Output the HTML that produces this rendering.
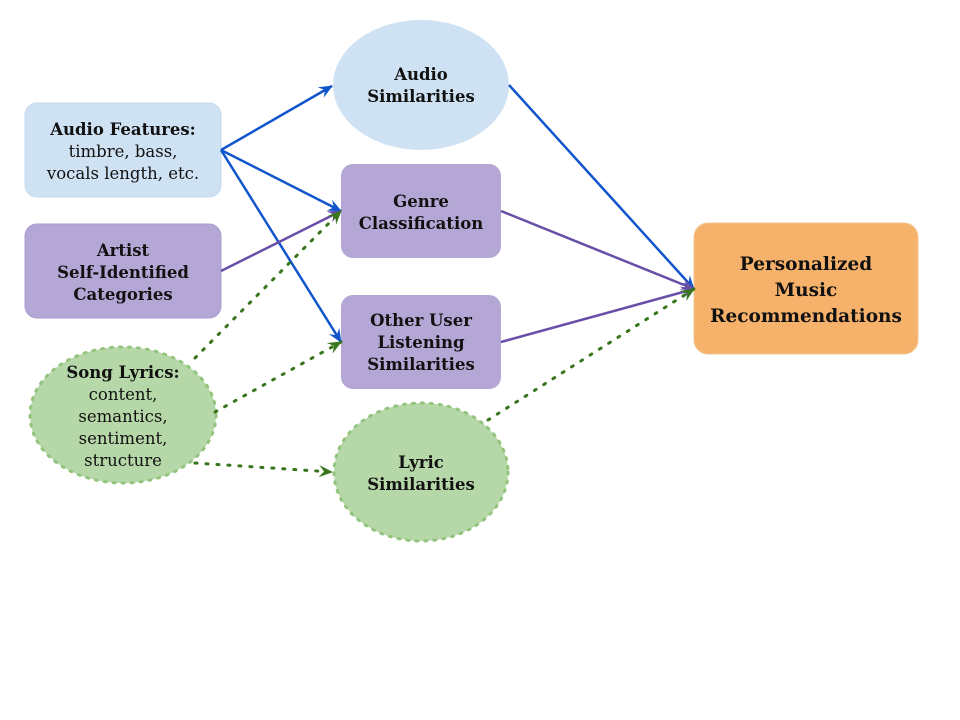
<!DOCTYPE html>
<html><head><meta charset="utf-8"><style>html,body{margin:0;padding:0;background:#fff}svg{display:block}</style></head>
<body>
<svg width="960" height="720" viewBox="0 0 960 720" xmlns="http://www.w3.org/2000/svg" font-family="'DejaVu Serif','Liberation Serif',serif">
<defs>
<marker id="ab" viewBox="0 0 14 12" refX="13" refY="6" markerWidth="14" markerHeight="12" markerUnits="userSpaceOnUse" orient="auto"><path d="M0,0 L14,6 L0,12 L5,6 Z" fill="#1155cc"/></marker>
<marker id="ap" viewBox="0 0 14 12" refX="13" refY="6" markerWidth="14" markerHeight="12" markerUnits="userSpaceOnUse" orient="auto"><path d="M0,0 L14,6 L0,12 L5,6 Z" fill="#674ea7"/></marker>
<marker id="ag" viewBox="0 0 14 12" refX="13" refY="6" markerWidth="14" markerHeight="12" markerUnits="userSpaceOnUse" orient="auto"><path d="M0,0 L14,6 L0,12 L5,6 Z" fill="#38761d"/></marker>
</defs>
<rect x="25" y="103" width="196" height="94" rx="12" fill="#cfe2f3" stroke="#c4d9ee"/>
<rect x="25" y="224" width="196" height="94" rx="12" fill="#b4a7d6" stroke="#aa9dd0"/>
<ellipse cx="123" cy="415" rx="93" ry="68" fill="#b6d7a8" stroke="#93c47d" stroke-width="3" stroke-dasharray="2,7" stroke-linecap="round"/>
<ellipse cx="421" cy="85" rx="88" ry="65" fill="#cfe2f3"/>
<rect x="341" y="164" width="160" height="94" rx="12" fill="#b4a7d6"/>
<rect x="341" y="295" width="160" height="94" rx="12" fill="#b4a7d6"/>
<ellipse cx="421" cy="472" rx="87" ry="69" fill="#b6d7a8" stroke="#93c47d" stroke-width="3" stroke-dasharray="2,7" stroke-linecap="round"/>
<rect x="694" y="223" width="224" height="131" rx="14" fill="#f6b26b" stroke="#f3c790"/>
<g fill="none" stroke-width="2.5">
<line x1="221" y1="150" x2="332" y2="86" stroke="#1155cc" marker-end="url(#ab)"/>
<line x1="221" y1="150" x2="341" y2="211" stroke="#1155cc" marker-end="url(#ab)"/>
<line x1="221" y1="150" x2="341" y2="342" stroke="#1155cc" marker-end="url(#ab)"/>
<line x1="509" y1="85" x2="694" y2="289" stroke="#1155cc" marker-end="url(#ab)"/>
<line x1="221" y1="271" x2="341" y2="211" stroke="#674ea7" marker-end="url(#ap)"/>
<line x1="501" y1="211" x2="694" y2="289" stroke="#674ea7" marker-end="url(#ap)"/>
<line x1="501" y1="342" x2="694" y2="289" stroke="#674ea7" marker-end="url(#ap)"/>
<g stroke="#38761d" stroke-dasharray="2,9" stroke-linecap="round" stroke-width="3">
<line x1="195" y1="358" x2="341" y2="211" marker-end="url(#ag)"/>
<line x1="215" y1="412" x2="341" y2="342" marker-end="url(#ag)"/>
<line x1="195" y1="463" x2="332" y2="472" marker-end="url(#ag)"/>
<line x1="488" y1="420" x2="694" y2="289" marker-end="url(#ag)"/>
</g>
</g>
<g font-size="16.5" fill="#111" text-anchor="middle">
<text x="123" y="135" font-weight="bold">Audio Features:</text>
<text x="123" y="157">timbre, bass,</text>
<text x="123" y="179">vocals length, etc.</text>
<text x="123" y="256" font-weight="bold">Artist</text>
<text x="123" y="278" font-weight="bold">Self-Identified</text>
<text x="123" y="300" font-weight="bold">Categories</text>
<text x="123" y="378" font-weight="bold">Song Lyrics:</text>
<text x="123" y="400">content,</text>
<text x="123" y="422">semantics,</text>
<text x="123" y="444">sentiment,</text>
<text x="123" y="466">structure</text>
<text x="421" y="80" font-weight="bold">Audio</text>
<text x="421" y="102" font-weight="bold">Similarities</text>
<text x="421" y="207" font-weight="bold">Genre</text>
<text x="421" y="229" font-weight="bold">Classification</text>
<text x="421" y="326" font-weight="bold">Other User</text>
<text x="421" y="348" font-weight="bold">Listening</text>
<text x="421" y="370" font-weight="bold">Similarities</text>
<text x="421" y="468" font-weight="bold">Lyric</text>
<text x="421" y="490" font-weight="bold">Similarities</text>
</g>
<g font-size="18.5" fill="#111" text-anchor="middle" font-weight="bold">
<text x="806" y="270">Personalized</text>
<text x="806" y="296">Music</text>
<text x="806" y="322">Recommendations</text>
</g>
</svg>
</body></html>
